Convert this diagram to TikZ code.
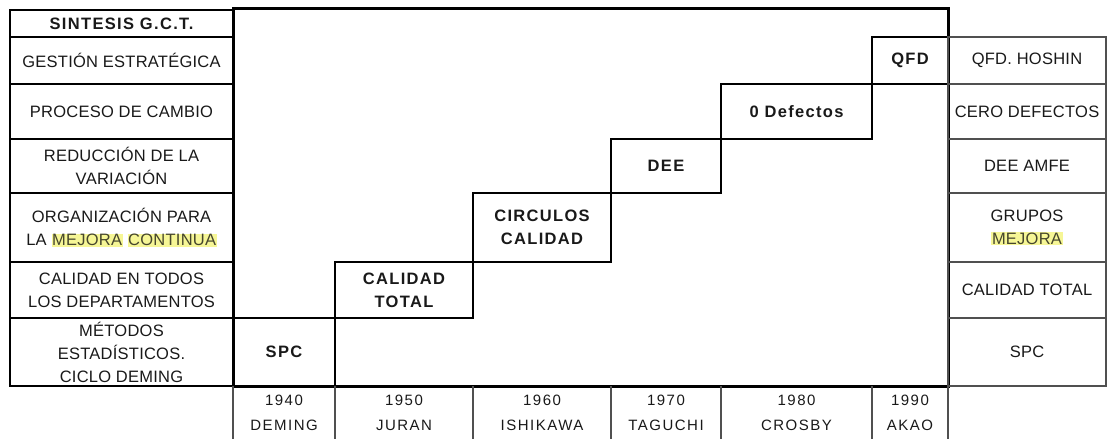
\documentclass[tikz,border=0pt]{standalone}
\usepackage{fontspec}
\setmainfont{Liberation Sans}
\newfontfamily\cellfont[LetterSpace=1.5]{Liberation Sans}
\newfontfamily\stepfont[LetterSpace=8]{Liberation Sans}
\newfontfamily\yearfont[LetterSpace=10]{Liberation Sans}
\usetikzlibrary{positioning, calc}
\definecolor{inkgray}{RGB}{25,25,25}
\definecolor{hlyellow}{RGB}{246,246,150}
\definecolor{hltext}{RGB}{70,70,45}
\definecolor{rulegray}{RGB}{80,80,80}
\newcommand{\mejora}[1]{{\setlength{\fboxsep}{0.6pt}\colorbox{hlyellow}{\color{hltext}#1}}}

\begin{document}
\begin{tikzpicture}[
    x=1pt, y=-1pt,
    every node/.style={text=inkgray, inner sep=0pt, align=center},
    concept/.style={draw, line width=1.6pt, minimum width=223pt, minimum height=#1, font=\cellfont\fontsize{16.5}{23}\selectfont},
    tool/.style={draw=rulegray, line width=1.1pt, minimum width=158pt, minimum height=#1, font=\cellfont\fontsize{16.5}{23}\selectfont},
    stepbox/.style={draw, line width=2.6pt, minimum height=#1, font=\stepfont\bfseries\fontsize{16.5}{23}\selectfont},
    period/.style={font=\yearfont\fontsize{15}{25}\selectfont},
    divider/.style={line width=1.4pt, draw=rulegray},
]
\useasboundingbox (0,0) rectangle (1108,439);

%% Main frame
\node[draw, line width=3pt, minimum width=715pt, minimum height=378pt] (chart) at (590.5,197) {};

%% Left column: G.C.T. synthesis
\node[concept=27pt, font=\stepfont\bfseries\fontsize{16.5}{23}\selectfont] (sintesis) at (121.5,23.5) {SINTESIS G.C.T.};
\node[concept=47pt] (gestion) at (121.5,60.5) {GESTIÓN ESTRATÉGICA};
\node[concept=55pt] (proceso) at (121.5,111.5) {PROCESO DE CAMBIO};
\node[concept=54pt] (reduccion) at (121.5,166) {REDUCCIÓN DE LA\\VARIACIÓN};
\node[concept=69pt] (organizacion) at (121.5,227.5) {ORGANIZACIÓN PARA\\LA \mejora{MEJORA} \mejora{CONTINUA}};
\node[concept=56pt] (departamentos) at (121.5,290) {CALIDAD EN TODOS\\LOS DEPARTAMENTOS};
\node[concept=68pt] (metodos) at (121.5,352) {MÉTODOS\\ESTADÍSTICOS.\\CICLO DEMING};

%% Staircase of approaches
\node[stepbox=68pt, minimum width=102pt] (spc) at (284,352) {SPC};
\node[stepbox=56pt, minimum width=138pt] (caltotal) at (404,290) {CALIDAD\\TOTAL};
\node[stepbox=69pt, minimum width=138pt] (circulos) at (542,227.5) {CIRCULOS\\CALIDAD};
\node[stepbox=54pt, minimum width=110pt] (dee) at (666,166) {DEE};
\node[stepbox=55pt, minimum width=151pt] (defectos) at (796.5,111.5) {0 Defectos};
\node[stepbox=47pt, minimum width=76pt] (qfd) at (910,60.5) {\raisebox{-7pt}{QFD}};

%% Right column: tools
\node[tool=47pt] (hoshin) at (1027,60.5) {QFD. HOSHIN};
\node[tool=55pt] (cero) at (1027,111.5) {CERO DEFECTOS};
\node[tool=54pt] (amfe) at (1027,166) {DEE AMFE};
\node[tool=69pt] (grupos) at (1027,227.5) {GRUPOS\\\mejora{MEJORA}};
\node[tool=56pt] (caltool) at (1027,290) {CALIDAD TOTAL};
\node[tool=68pt] (spctool) at (1027,352) {SPC};

%% Time line
\foreach \x in {233,335,473,611,721,872,948}
    \draw[divider] (\x,386) -- (\x,439);

\node[period] (p1940) at (284,413) {1940\\DEMING};
\node[period] (p1950) at (404,413) {1950\\JURAN};
\node[period] (p1960) at (542,413) {1960\\ISHIKAWA};
\node[period] (p1970) at (666,413) {1970\\TAGUCHI};
\node[period] (p1980) at (796.5,413) {1980\\CROSBY};
\node[period] (p1990) at (910,413) {1990\\AKAO};

\end{tikzpicture}
\end{document}
